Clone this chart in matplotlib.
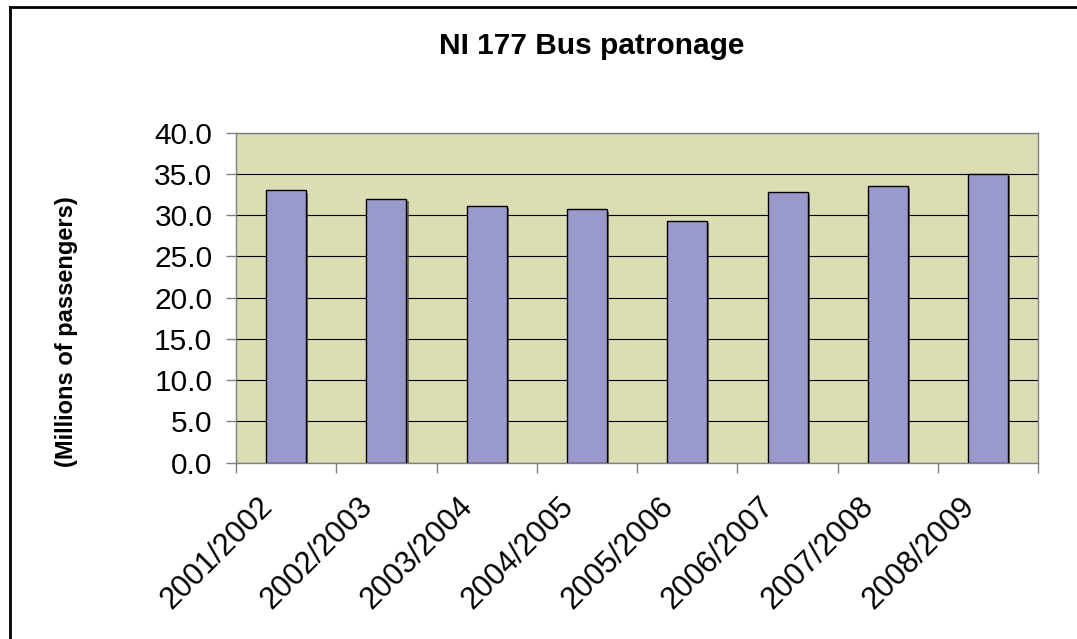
import matplotlib
matplotlib.use('Agg')
import matplotlib.pyplot as plt
import matplotlib.patheffects as pe
from matplotlib.lines import Line2D
from matplotlib.transforms import ScaledTranslation
from matplotlib.ticker import FormatStrFormatter
import numpy as np

# dati
anni = ['2001/2002', '2002/2003', '2003/2004', '2004/2005',
        '2005/2006', '2006/2007', '2007/2008', '2008/2009']
passeggeri = [33.0, 32.0, 31.1, 30.7, 29.3, 32.8, 33.5, 35.0]
y_ticks = [0, 5, 10, 15, 20, 25, 30, 35, 40]

plt.rcParams['font.family'] = ['Liberation Sans', 'DejaVu Sans']

fig = plt.figure(figsize=(10.77, 6.39), dpi=100)
ax = fig.add_axes([0.2191, 0.2759, 0.9641 - 0.2191, 0.7923 - 0.2759])

x = np.arange(len(anni))
bars = ax.bar(x, passeggeri, width=0.4, color='#9999CC', edgecolor='black',
              linewidth=1.0, zorder=3)
for b in bars:
    b.set_path_effects([pe.SimplePatchShadow(offset=(1.5, -1.5), shadow_rgbFace='#555555', alpha=0.8),
                        pe.Normal()])

ax.set_facecolor('#DCDDB3')
ax.set_xlim(-0.5, len(anni) - 0.5)
ax.set_ylim(0, 40)
ax.set_yticks(y_ticks)
ax.yaxis.set_major_formatter(FormatStrFormatter('%.1f'))
ax.yaxis.grid(True, color='black', linewidth=0.8, zorder=1)
ax.set_axisbelow(True)

# tacche tra le categorie, etichette al centro
ax.set_xticks(np.arange(len(anni) + 1) - 0.5)
ax.set_xticklabels([])
ax.set_xticks(x, minor=True)
ax.set_xticklabels(anni, minor=True, fontsize=22)
ax.tick_params(axis='x', which='major', length=7, width=1, color='#808080', direction='out')
ax.tick_params(axis='x', which='minor', length=0, pad=0)
ax.tick_params(axis='y', labelsize=21.5, length=7, width=1, color='#808080', pad=10)

offset = ScaledTranslation(-0.29, -0.29, fig.dpi_scale_trans)
for lab in ax.get_xticklabels(minor=True):
    lab.set_rotation(45)
    lab.set_ha('right')
    lab.set_va('top')
    lab.set_rotation_mode('anchor')
    lab.set_transform(lab.get_transform() + offset)

for s in ax.spines.values():
    s.set_color('#808080')
    s.set_linewidth(1)

fig.text(591.5 / 1077, 1 - 54 / 639, 'NI 177 Bus patronage', fontsize=21.5,
         fontweight='bold', ha='center', va='baseline')
fig.text(67 / 1077, 1 - 332 / 639, '(Millions of passengers)', fontsize=17,
         fontweight='bold', rotation=90, ha='center', va='center')

# bordo esterno (solo lati visibili)
fig.add_artist(Line2D([9.5 / 1077, 1.0], [1 - 7.3 / 639, 1 - 7.3 / 639],
                      transform=fig.transFigure, color='black', linewidth=2))
fig.add_artist(Line2D([9.5 / 1077, 9.5 / 1077], [0.0, 1 - 7.3 / 639],
                      transform=fig.transFigure, color='black', linewidth=2))

fig.savefig('out.png', dpi=100)
